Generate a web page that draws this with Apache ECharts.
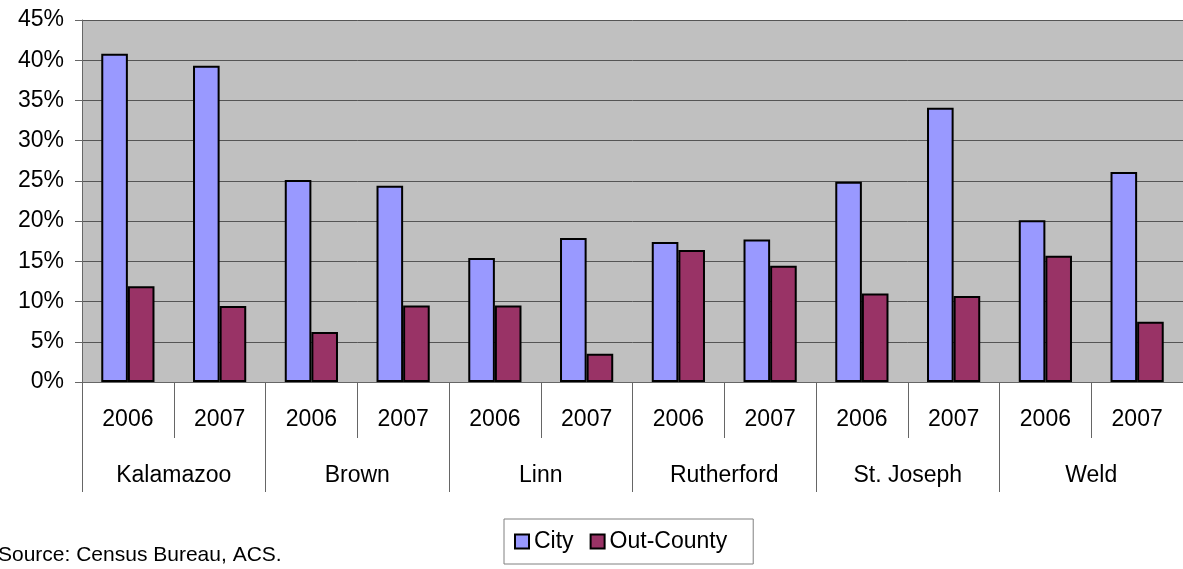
<!DOCTYPE html>
<html style="height: 100%">
   <head>
       <meta charset="utf-8">
   </head>
   <body style="height: 100%; margin: 0; background: #fff">
       <div id="container" style="width: 1183px; height: 569px"></div>
       <script type="text/javascript" src="https://cdn.jsdelivr.net/npm/echarts@6/dist/echarts.min.js"></script>
       <script type="text/javascript">
// chart data (percent)
var years = ['2006', '2007', '2006', '2007', '2006', '2007', '2006', '2007', '2006', '2007', '2006', '2007'];
var counties = ['Kalamazoo', 'Brown', 'Linn', 'Rutherford', 'St. Joseph', 'Weld'];
var cityValues = [40.8, 39.3, 25.1, 24.4, 15.4, 17.9, 17.4, 17.7, 24.9, 34.1, 20.1, 26.1];
var outCountyValues = [11.9, 9.45, 6.2, 9.5, 9.5, 3.5, 16.4, 14.45, 11.0, 10.7, 15.7, 7.5];

var font = 'Liberation Sans';
var dom = document.getElementById("container");
var myChart = echarts.init(dom);

var option = {
    animation: false,
    textStyle: {fontFamily: font},
    grid: {
        left: 82, right: 0, top: 20, bottom: 187,
        show: true,
        backgroundColor: '#C0C0C0',
        borderWidth: 0
    },
    legend: {
        left: 504, top: 519,
        padding: [11, 26, 11, 10],
        itemGap: 16,
        itemWidth: 14,
        itemHeight: 14,
        icon: 'rect',
        borderColor: '#808080',
        borderWidth: 1,
        textStyle: {fontSize: 23, color: '#000', fontFamily: font},
        data: ['City', 'Out-County']
    },
    graphic: [{
        type: 'text',
        x: -2, y: 555,
        style: {
            text: 'Source: Census Bureau, ACS.',
            fontSize: 21,
            fontFamily: font,
            fill: '#000',
            textVerticalAlign: 'middle'
        }
    }],
    xAxis: [{
        type: 'category',
        data: years,
        position: 'bottom',
        axisLine: {lineStyle: {color: '#666', width: 1}},
        axisTick: {show: true, interval: 0, length: 56, lineStyle: {color: '#666'}},
        axisLabel: {interval: 0, margin: 26, fontSize: 23, color: '#000', fontFamily: font},
        splitLine: {show: false}
    }, {
        type: 'category',
        data: counties,
        position: 'bottom',
        offset: 0,
        axisLine: {show: false},
        axisTick: {show: true, interval: 0, length: 110, lineStyle: {color: '#666'}},
        axisLabel: {interval: 0, margin: 82, fontSize: 23, color: '#000', fontFamily: font},
        splitLine: {show: false}
    }],
    yAxis: {
        type: 'value',
        min: 0, max: 45, interval: 5,
        axisLine: {show: true, lineStyle: {color: '#666'}},
        axisTick: {show: true, length: 7, lineStyle: {color: '#666'}},
        axisLabel: {formatter: '{value}%', fontSize: 23, color: '#000', margin: 18, fontFamily: font},
        splitLine: {show: true, lineStyle: {color: '#555', width: 1}}
    },
    series: [{
        name: 'City',
        type: 'bar',
        xAxisIndex: 0,
        data: cityValues,
        barWidth: '29%',
        barGap: '0%',
        itemStyle: {color: '#9999FF', borderColor: '#000', borderWidth: 2}
    }, {
        name: 'Out-County',
        type: 'bar',
        xAxisIndex: 0,
        data: outCountyValues,
        barWidth: '29%',
        barGap: '0%',
        itemStyle: {color: '#993366', borderColor: '#000', borderWidth: 2}
    }]
};

myChart.setOption(option);
       </script>
   </body>
</html>
